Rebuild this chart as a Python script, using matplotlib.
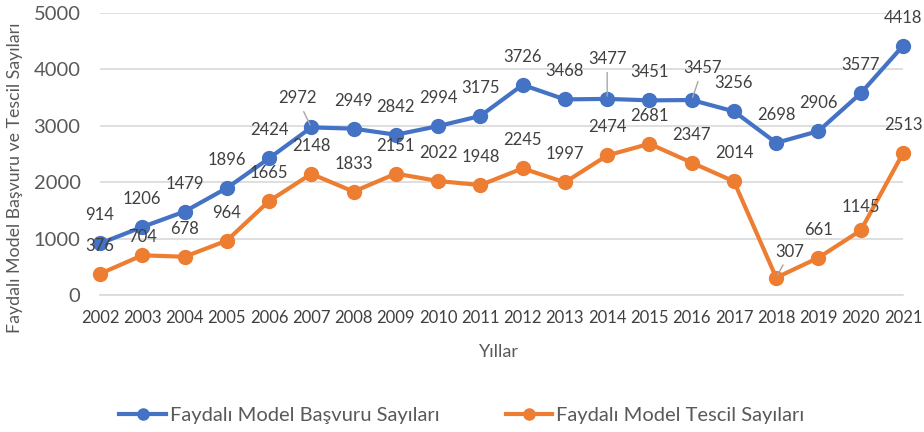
import matplotlib
matplotlib.use("Agg")
import matplotlib.pyplot as plt
from matplotlib.lines import Line2D

plt.rcParams['font.family'] = ['Lato', 'DejaVu Sans']

years = [str(y) for y in range(2002, 2022)]
basvuru = [914, 1206, 1479, 1896, 2424, 2972, 2949, 2842, 2994, 3175,
           3726, 3468, 3477, 3451, 3457, 3256, 2698, 2906, 3577, 4418]
tescil = [376, 704, 678, 964, 1665, 2148, 1833, 2151, 2022, 1948,
          2245, 1997, 2474, 2681, 2347, 2014, 307, 661, 1145, 2513]
series_names = ["Faydalı Model Başvuru Sayıları", "Faydalı Model Tescil Sayıları"]
y_ticks = [0, 1000, 2000, 3000, 4000, 5000]
xlabel = "Yıllar"
ylabel = "Faydalı Model Başvuru ve Tescil Sayıları"

BLUE = "#4472C4"
ORANGE = "#ED7D31"
TXT = "#404040"
GRID = "#D9D9D9"

fig = plt.figure(figsize=(9.24, 4.32), dpi=100)
ax = fig.add_axes([100/924, 1-295/432, 803/924, 282/432])

x = list(range(len(years)))
ax.plot(x, basvuru, color=BLUE, lw=3, marker='o', ms=10, clip_on=False, zorder=3)
ax.plot(x, tescil, color=ORANGE, lw=3, marker='o', ms=10, clip_on=False, zorder=3)

ax.set_xlim(0, len(years) - 1)
ax.set_ylim(0, 5000)
ax.set_yticks(y_ticks)
ax.set_yticklabels([str(t) for t in y_ticks], fontsize=14.5, color="#595959")
ax.set_xticks(x)
ax.set_xticklabels(years, fontsize=12, color="#404040")
ax.tick_params(axis='y', length=0, pad=14)
ax.tick_params(axis='x', length=0, pad=11)
ax.grid(axis='y', color=GRID, lw=1.2)
ax.set_axisbelow(True)
for s in ['top', 'right', 'left']:
    ax.spines[s].set_visible(False)
ax.spines['bottom'].set_color(GRID)
ax.spines['bottom'].set_linewidth(1.2)

PX = 72 / 100.0  # px -> points

def label(xi, v, dx_px=0, dy_px=28, leader=False):
    kw = {}
    if leader:
        kw['arrowprops'] = dict(arrowstyle='-', color='#A6A6A6', lw=1, shrinkA=2, shrinkB=2)
    ax.annotate(str(v), (xi, v), xytext=(dx_px*PX, dy_px*PX), textcoords='offset points',
                ha='center', va='center', fontsize=12, color=TXT, zorder=5,
                annotation_clip=False, **kw)

blue_off = {5: (-14, 29, True), 12: (0, 40, True), 14: (11, 32, True)}
orange_off = {1: (0, 18, False), 16: (14, 26, True), 18: (0, 23, False)}
for i, v in enumerate(basvuru):
    dx, dy, ld = blue_off.get(i, (0, 28, False))
    label(i, v, dx, dy, ld)
for i, v in enumerate(tescil):
    dx, dy, ld = orange_off.get(i, (0, 28, False))
    label(i, v, dx, dy, ld)

fig.text(499/924, 1-352/432, xlabel, ha='center', va='center', fontsize=13, color="#595959")
fig.text(15/924, 1-178/432, ylabel, ha='center', va='center', rotation=90, fontsize=12.8, color="#595959")

handles = [Line2D([], [], color=BLUE, lw=3, marker='o', ms=8),
           Line2D([], [], color=ORANGE, lw=3, marker='o', ms=8)]
fig.legend(handles, series_names, loc='center', bbox_to_anchor=(462/924, 1-415/432),
           ncol=2, frameon=False, fontsize=14.5, labelcolor="#595959",
           handlelength=2.3, handletextpad=0.2, columnspacing=3.3)

fig.savefig("out.png", dpi=100)
